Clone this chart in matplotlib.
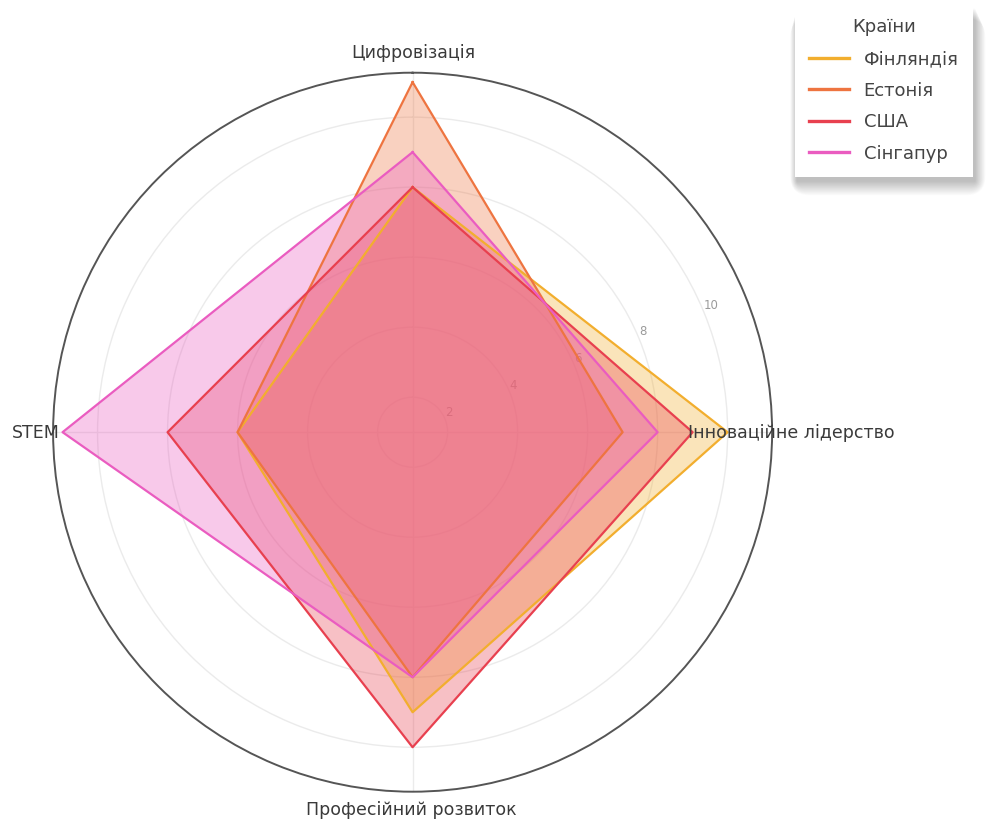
import numpy as np
import matplotlib
matplotlib.use("Agg")
import matplotlib.pyplot as plt
from matplotlib.patches import FancyBboxPatch
from matplotlib.lines import Line2D

# Radar data: scores per country on four dimensions
categories = ["Цифровізація", "Інноваційне лідерство", "Професійний розвиток", "STEM"]
countries = ["Фінляндія", "Естонія", "США", "Сінгапур"]
finland = [8, 10, 9, 6]
estonia = [11, 7, 8, 6]
usa = [8, 9, 10, 8]
singapore = [9, 8, 8, 11]
colors = ["#F2AE2E", "#EE7440", "#E8404F", "#EA5CC0"]
radial_ticks = [2, 4, 6, 8, 10]

series = [finland, estonia, usa, singapore]

W, H = 993, 823
fig = plt.figure(figsize=(W / 100, H / 100), dpi=100)
fig.patch.set_facecolor("white")

cx, cy, R = 412.6, 432.2, 359.5
ax = fig.add_axes([(cx - R) / W, (H - cy - R) / H, 2 * R / W, 2 * R / H], projection="polar")
ax.set_theta_zero_location("N")
ax.set_theta_direction(-1)

n = len(categories)
angles = np.arange(n) * 2 * np.pi / n
ang_closed = np.concatenate([angles, angles[:1]])

for vals, col, name in zip(series, colors, countries):
    v = np.concatenate([vals, vals[:1]])
    ax.fill(ang_closed, v, color=col, alpha=0.33, zorder=2, linewidth=0)
    ax.plot(ang_closed, v, color=col, linewidth=1.6, zorder=3, label=name)

ax.set_ylim(1, 11.27)
ax.set_xticks(angles)
ax.set_xticklabels([])
ax.set_rgrids(radial_ticks, labels=[str(t) for t in radial_ticks], angle=67.5,
              fontsize=8.5, color="#9a9a9a")
ax.grid(True, color="#ebebeb", linewidth=1.0)
ax.spines["polar"].set_color("#555555")
ax.spines["polar"].set_linewidth(1.4)
ax.tick_params(axis="y", pad=2)

# Category labels around the circle
def ftext(x, y, s, **kw):
    fig.text(x / W, 1 - y / H, s, **kw)

lab = dict(fontsize=12.5, color="#3a3a3a", va="center")
ftext(413, 53, categories[0], ha="center", **lab)
ftext(688, 433, categories[1], ha="left", **lab)
ftext(411, 810, categories[2], ha="center", **lab)
ftext(60, 433, categories[3], ha="right", **lab)

# Legend with a soft shadow
handles = [Line2D([0], [0], color=c, lw=2.4) for c in colors]
leg = fig.legend(handles, countries, title="Країни", loc="upper left",
                 bbox_to_anchor=(795 / W, 1 - 4 / H), frameon=True, framealpha=1.0,
                 fontsize=13, title_fontsize=13, handlelength=2.2,
                 handletextpad=0.8, labelspacing=0.75, borderpad=0.8,
                 borderaxespad=0)
leg.get_frame().set_edgecolor("white")
leg.get_frame().set_facecolor("white")
leg.get_frame().set_linewidth(0)
leg.get_frame().set_boxstyle("square", pad=0)
plt.setp(leg.get_texts(), color="#444444")
leg.get_title().set_color("#444444")
leg.set_zorder(10)

fig.canvas.draw()
bb = leg.get_window_extent()
for i in range(16):
    g = 1 + i * 1.2
    sh = FancyBboxPatch((bb.x0 + 2 - g * 0.35, bb.y0 - 4 - g * 0.75), bb.width + g * 0.9, bb.height + g * 0.2,
                        boxstyle="round,pad=0,rounding_size=%f" % (g),
                        transform=None, facecolor="black", edgecolor="none",
                        alpha=0.016, zorder=5)
    fig.patches.append(sh)

fig.savefig("out.png", dpi=100, facecolor="white")
